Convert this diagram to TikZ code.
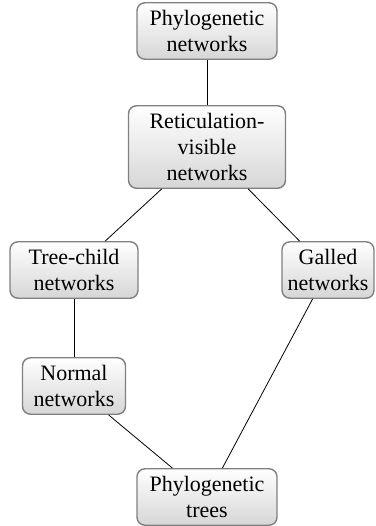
\documentclass[tikz,border=0pt]{standalone}
\usepackage{fontspec}
\setmainfont{Liberation Serif}
\newfontfamily\boxfont{Liberation Serif}
\usepackage{tikz}
\usetikzlibrary{positioning}
\definecolor{boxGray}{RGB}{128, 128, 128}
\definecolor{boxShade}{RGB}{214, 214, 214}

\begin{document}
\begin{tikzpicture} [
    x=1pt, y=-1pt,
    block/.style = { rectangle, draw=boxGray, line width=1.4pt,
                     top color=white, bottom color=boxShade,
                     rounded corners=8pt, align=center,
                     inner xsep=3pt, inner ysep=7.5pt,
                     font=\boxfont\fontsize{22}{26}\selectfont},
    line/.style  = { draw, line width=0.8pt},
  ]
  \useasboundingbox (0,0) rectangle (375,526);

%Knoten (oben nach unten)
  \node [block, minimum width=140pt] (pn) at (207,31)  {Phylogenetic\\networks};
  \node [block, minimum width=157pt] (rv) at (207,147) {Reticulation-\\visible\\networks};
  \node [block, minimum width=128pt] (tc) at (74,270)  {Tree-child\\networks};
  \node [block, minimum width=92pt]  (gn) at (328,270) {Galled\\networks};
  \node [block, minimum width=103pt] (nn) at (74,386)  {Normal\\networks};
  \node [block, minimum width=140pt] (pt) at (207,497) {Phylogenetic\\trees};

%Kanten
  \begin{scope} [every path/.style={line}]
   \path (pn) -- (rv);
   \path (rv) -- (tc);
   \path (rv) -- (gn);
   \path (tc) -- (nn);
   \path (nn) -- (pt);
   \path (gn) -- (pt);
  \end{scope}
\end{tikzpicture}
\end{document}
